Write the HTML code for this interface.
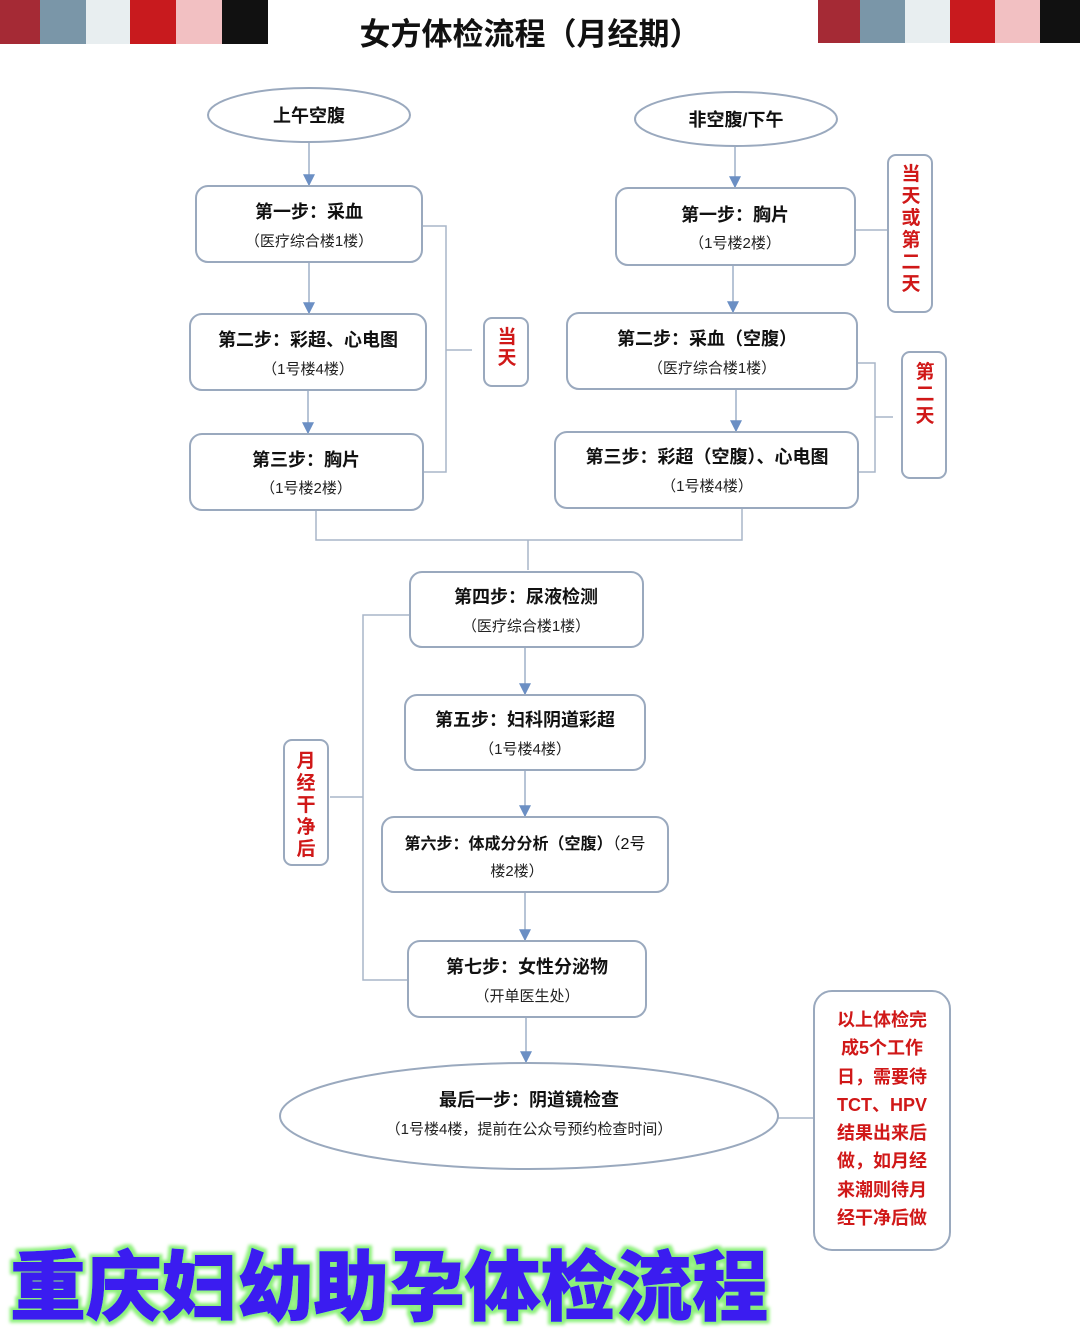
<!DOCTYPE html>
<html><head><meta charset="utf-8"><style>
html,body{margin:0;padding:0;background:#fff;}
svg{display:block;}
text{font-family:"Liberation Sans","Noto Sans CJK SC",sans-serif;}
</style></head><body>
<svg width="1080" height="1329" viewBox="0 0 1080 1329" xmlns="http://www.w3.org/2000/svg">
<defs>
<marker id="a" viewBox="0 0 10 10" refX="9" refY="5" markerWidth="8" markerHeight="8" orient="auto"><path d="M0,0L10,5L0,10z" fill="#6b8fc4"/></marker>
<filter id="g" x="-5%" y="-20%" width="110%" height="140%"><feMorphology in="SourceAlpha" operator="dilate" radius="3" result="d"/><feGaussianBlur in="d" stdDeviation="1.5" result="b"/><feFlood flood-color="#8cf07a"/><feComposite in2="b" operator="in" result="gl"/><feMerge><feMergeNode in="gl"/><feMergeNode in="SourceGraphic"/></feMerge></filter>
</defs>
<rect x="0" y="0" width="40" height="44" fill="#a52a35"/><rect x="40" y="0" width="46" height="44" fill="#7a96a8"/><rect x="86" y="0" width="44" height="44" fill="#e8eef0"/><rect x="130" y="0" width="46" height="44" fill="#c81a1e"/><rect x="176" y="0" width="46" height="44" fill="#f2c0c2"/><rect x="222" y="0" width="46" height="44" fill="#111"/>
<rect x="818" y="0" width="42" height="43" fill="#a52a35"/><rect x="860" y="0" width="45" height="43" fill="#7a96a8"/><rect x="905" y="0" width="45" height="43" fill="#e8eef0"/><rect x="950" y="0" width="45" height="43" fill="#c81a1e"/><rect x="995" y="0" width="45" height="43" fill="#f2c0c2"/><rect x="1040" y="0" width="40" height="43" fill="#111"/>
<text x="530" y="45" font-size="31" font-weight="bold" text-anchor="middle" fill="#111">女方体检流程（月经期）</text>

<g fill="none" stroke="#a9b6c8" stroke-width="1.5">
<path d="M422,226 H446 V472 H423 M446,350 H472"/>
<path d="M855,230 H888"/>
<path d="M857,363 H875 V472 H858 M875,417 H893"/>
<path d="M316,510 V540 H742 V508 M528,540 V570"/>
<path d="M410,615 H363 V980 H408 M363,797 H330"/>
<path d="M778,1118 H814"/>
</g>
<g stroke="#9fb0c8" stroke-width="1.5" marker-end="url(#a)">
<line x1="309" y1="142" x2="309" y2="185"/>
<line x1="309" y1="262" x2="309" y2="313"/>
<line x1="308" y1="390" x2="308" y2="433"/>
<line x1="735" y1="146" x2="735" y2="187"/>
<line x1="733" y1="265" x2="733" y2="312"/>
<line x1="736" y1="389" x2="736" y2="431"/>
<line x1="525" y1="647" x2="525" y2="694"/>
<line x1="525" y1="770" x2="525" y2="816"/>
<line x1="525" y1="892" x2="525" y2="940"/>
<line x1="526" y1="1017" x2="526" y2="1062"/>
</g>

<g fill="#fff" stroke="#9aa9be" stroke-width="2">
<ellipse cx="309" cy="115" rx="101" ry="27"/>
<ellipse cx="736" cy="119" rx="101" ry="27"/>
<rect x="196" y="186" width="226" height="76" rx="12"/>
<rect x="190" y="314" width="236" height="76" rx="12"/>
<rect x="190" y="434" width="233" height="76" rx="12"/>
<rect x="616" y="188" width="239" height="77" rx="12"/>
<rect x="567" y="313" width="290" height="76" rx="12"/>
<rect x="555" y="432" width="303" height="76" rx="12"/>
<rect x="484" y="318" width="44" height="68" rx="8"/>
<rect x="888" y="155" width="44" height="157" rx="8"/>
<rect x="902" y="352" width="44" height="126" rx="8"/>
<rect x="410" y="572" width="233" height="75" rx="12"/>
<rect x="405" y="695" width="240" height="75" rx="12"/>
<rect x="382" y="817" width="286" height="75" rx="12"/>
<rect x="408" y="941" width="238" height="76" rx="12"/>
<rect x="284" y="740" width="44" height="125" rx="8"/>
<ellipse cx="529" cy="1116" rx="249" ry="53"/>
<rect x="814" y="991" width="136" height="259" rx="18"/>
</g>

<g fill="#111" font-weight="bold" font-size="18" text-anchor="middle">
<text x="309" y="122">上午空腹</text>
<text x="736" y="126">非空腹/下午</text>
<text x="309" y="218">第一步：采血</text>
<text x="308" y="346">第二步：彩超、心电图</text>
<text x="306" y="466">第三步：胸片</text>
<text x="735" y="221">第一步：胸片</text>
<text x="707" y="345">第二步：采血（空腹）</text>
<text x="707" y="463">第三步：彩超（空腹）、心电图</text>
<text x="526" y="603">第四步：尿液检测</text>
<text x="525" y="726">第五步：妇科阴道彩超</text>
<text x="525" y="849" font-size="16">第六步：体成分分析（空腹）<tspan font-weight="normal">（2号</tspan></text>
<text x="527" y="973">第七步：女性分泌物</text>
<text x="529" y="1106">最后一步：阴道镜检查</text>
</g>
<g fill="#222" font-size="15" text-anchor="middle">
<text x="309" y="246">（医疗综合楼1楼）</text>
<text x="308" y="374">（1号楼4楼）</text>
<text x="306" y="493">（1号楼2楼）</text>
<text x="735" y="248">（1号楼2楼）</text>
<text x="712" y="373">（医疗综合楼1楼）</text>
<text x="707" y="491">（1号楼4楼）</text>
<text x="526" y="631">（医疗综合楼1楼）</text>
<text x="525" y="754">（1号楼4楼）</text>
<text x="517" y="876">楼2楼）</text>
<text x="527" y="1001">（开单医生处）</text>
<text x="529" y="1134">（1号楼4楼，提前在公众号预约检查时间）</text>
</g>
<g fill="#d01818" font-weight="bold" font-size="19" text-anchor="middle">
<text x="507" y="343">当</text><text x="507" y="364">天</text>
<text x="911" y="180">当</text><text x="911" y="202">天</text><text x="911" y="224">或</text><text x="911" y="246">第</text><text x="911" y="268">二</text><text x="911" y="290">天</text>
<text x="925" y="378">第</text><text x="925" y="400">二</text><text x="925" y="422">天</text>
<text x="306" y="767">月</text><text x="306" y="789">经</text><text x="306" y="811">干</text><text x="306" y="833">净</text><text x="306" y="855">后</text>
<g font-size="18">
<text x="882" y="1026">以上体检完</text>
<text x="882" y="1054">成5个工作</text>
<text x="882" y="1083">日，需要待</text>
<text x="882" y="1111">TCT、HPV</text>
<text x="882" y="1139">结果出来后</text>
<text x="882" y="1167">做，如月经</text>
<text x="882" y="1196">来潮则待月</text>
<text x="882" y="1224">经干净后做</text>
</g></g>
<text x="10" y="1314" font-size="76" font-weight="900" fill="#3a1ef0" stroke="#3a1ef0" stroke-width="1" textLength="758" lengthAdjust="spacingAndGlyphs" filter="url(#g)">重庆妇幼助孕体检流程</text>
</svg>
</body></html>
